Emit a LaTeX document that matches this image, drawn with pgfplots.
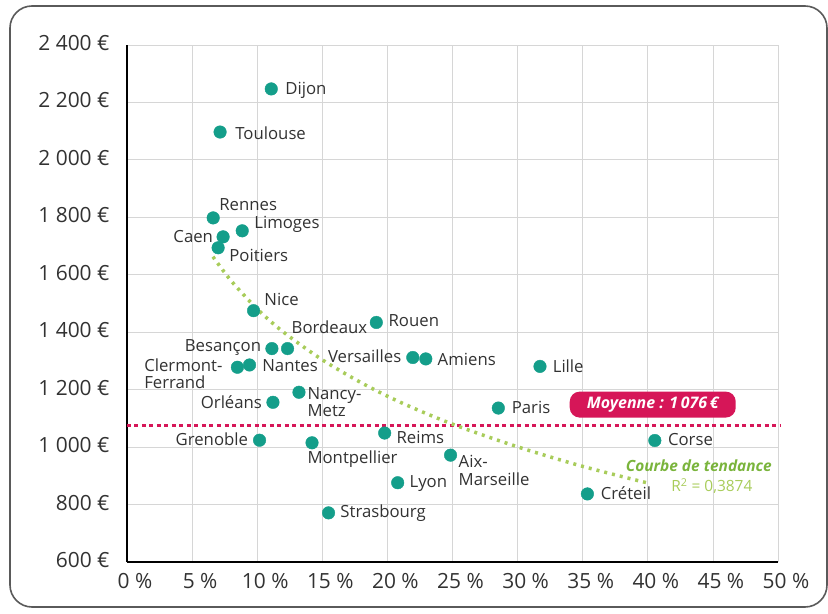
\documentclass[border=0pt]{standalone}
\usepackage{fontspec}
\setmainfont{Open Sans}
\usepackage{pgfplots}
\pgfplotsset{compat=1.18}
\usetikzlibrary{calc}

\definecolor{dotc}{RGB}{20,158,138}
\definecolor{meanc}{RGB}{214,22,88}
\definecolor{trendc}{RGB}{168,204,90}
\definecolor{trendtxt}{RGB}{122,180,60}
\definecolor{gridc}{RGB}{214,214,214}
\definecolor{framec}{RGB}{90,90,90}
\definecolor{labc}{RGB}{50,50,50}

\tikzset{lab/.style={font=\fontsize{16.8}{17}\selectfont, text=labc, inner sep=0pt}}

\begin{document}
\begin{tikzpicture}
\begin{axis}[
    scale only axis,
    width=651bp, height=517bp,
    xmin=0, xmax=50, ymin=600, ymax=2400,
    axis x line=bottom, axis y line=left,
    axis line style={-, line width=2.2bp, black},
    xtick={0,5,...,50},
    xticklabels={0~\%,5~\%,10~\%,15~\%,20~\%,25~\%,30~\%,35~\%,40~\%,45~\%,50~\%},
    ytick={600,800,...,2400},
    yticklabels={600~€,800~€,1~000~€,1~200~€,1~400~€,1~600~€,1~800~€,2~000~€,2~200~€,2~400~€},
    major tick length=0pt,
    grid=major,
    major grid style={draw=gridc, line width=0.8bp},
    tick label style={font=\fontsize{21}{24}\selectfont, text=labc},
    yticklabel style={xshift=-14bp, yshift=2bp},
    xticklabel style={xshift=8bp, yshift=-8bp},
    clip=false,
]
% moyenne
\addplot[meanc, line width=3bp, dash pattern=on 4bp off 3.5bp] coordinates {(0,1076) (50.2,1076)};
% courbe de tendance
\addplot[trendc, line width=3.5bp, dash pattern=on 3bp off 5bp, smooth] coordinates {
    (6.6,1663) (8,1579) (10,1481) (12,1401) (15,1304) (18,1224)
    (21,1156) (25,1080) (30,1001) (35,933) (40,875)
};
% academies
\addplot[only marks, mark=*, mark size=6.3bp, color=dotc] coordinates {
    (11.08,2247) (7.15,2097) (6.62,1798) (8.85,1753) (7.38,1732) (7.0,1694)
    (9.72,1475) (19.15,1434) (11.13,1343) (12.33,1343) (8.48,1278) (9.41,1286)
    (21.95,1312) (22.95,1307) (31.72,1281) (13.21,1191) (11.21,1156) (28.52,1136)
    (10.18,1024) (14.21,1015) (19.79,1049) (24.85,972) (20.79,876) (15.48,771)
    (40.54,1023) (35.36,837)
};
\node[lab, anchor=west] at (axis cs:12.15,2243) {Dijon};
\node[lab, anchor=west] at (axis cs:8.31,2094) {Toulouse};
\node[lab] at (axis cs:9.31,1843) {Rennes};
\node[lab, anchor=west] at (axis cs:9.77,1774) {Limoges};
\node[lab, anchor=east] at (axis cs:6.62,1732) {Caen};
\node[lab, anchor=west] at (axis cs:7.85,1666) {Poitiers};
\node[lab, anchor=west] at (axis cs:10.54,1513) {Nice};
\node[lab, anchor=west] at (axis cs:20.08,1440) {Rouen};
\node[lab, anchor=east] at (axis cs:18.46,1419) {Bordeaux};
\node[lab, anchor=east] at (axis cs:10.31,1346) {Besançon};
\node[lab, anchor=west, align=left] at (axis cs:1.31,1256) {Clermont-\\Ferrand};
\node[lab, anchor=west] at (axis cs:10.38,1284) {Nantes};
\node[lab, anchor=east] at (axis cs:21.08,1315) {Versailles};
\node[lab, anchor=west] at (axis cs:23.85,1304) {Amiens};
\node[lab, anchor=west] at (axis cs:32.69,1280) {Lille};
\node[lab, anchor=west, align=left] at (axis cs:13.85,1158) {Nancy-\\Metz};
\node[lab, anchor=east] at (axis cs:10.38,1155) {Orléans};
\node[lab, anchor=west] at (axis cs:29.54,1137) {Paris};
\node[lab, anchor=east] at (axis cs:9.31,1026) {Grenoble};
\node[lab, anchor=west] at (axis cs:13.85,957) {Montpellier};
\node[lab, anchor=west] at (axis cs:20.69,1033) {Reims};
\node[lab, anchor=west, align=left, font=\fontsize{16.8}{18}\selectfont] at (axis cs:25.46,918) {Aix-\\Marseille};
\node[lab, anchor=west] at (axis cs:21.69,873) {Lyon};
\node[lab, anchor=west] at (axis cs:16.38,769) {Strasbourg};
\node[lab, anchor=west] at (axis cs:41.54,1026) {Corse};
\node[lab, anchor=west] at (axis cs:36.38,838) {Créteil};
\node[fill=meanc, text=white, rounded corners=10bp, inner sep=0pt,
      minimum width=166bp, minimum height=26bp,
      font=\bfseries\itshape\fontsize{16}{18}\selectfont]
      at (axis cs:40.38,1148) {Moyenne : 1\,076\,€};
\node[inner sep=0pt, text=trendtxt, font=\bfseries\itshape\fontsize{15.5}{18}\selectfont]
      at (axis cs:43.92,936) {Courbe de tendance};
\node[inner sep=0pt, text=trendc, font=\fontsize{15.5}{18}\selectfont]
      at (axis cs:44.92,863) {R\textsuperscript{2} = 0,3874};
\coordinate (sw) at (rel axis cs:0,0);
\end{axis}
\draw[framec, line width=1.6bp, rounded corners=22bp]
    ($(sw)+(-117bp,-45bp)$) rectangle ($(sw)+(700bp,556bp)$);
\path[use as bounding box] ($(sw)+(-127bp,-52bp)$) rectangle ($(sw)+(701bp,562bp)$);
\end{tikzpicture}
\end{document}
